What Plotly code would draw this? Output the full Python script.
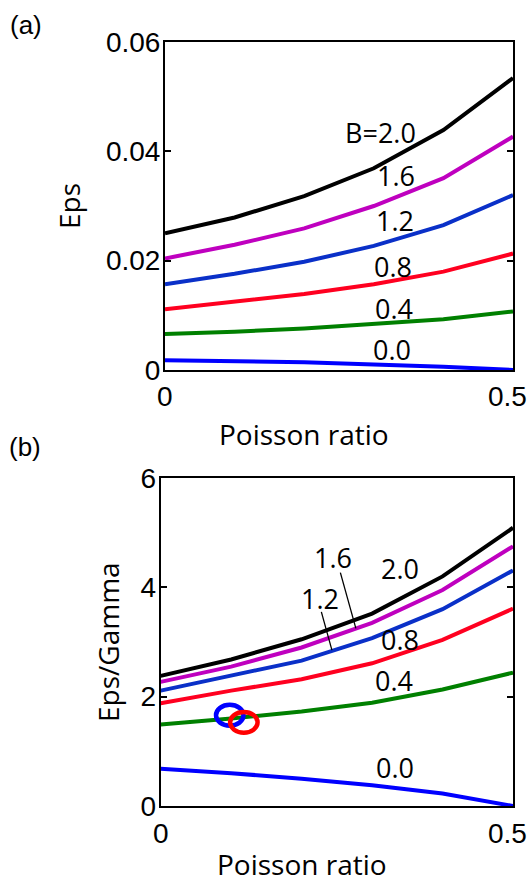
import plotly.graph_objects as go

# ---------------- data ----------------
poisson = [0.0, 0.1, 0.2, 0.3, 0.4, 0.5]
B_values = ["0.0", "0.4", "0.8", "1.2", "1.6", "2.0"]

# panel (a): Eps
eps_B00 = [0.0018, 0.0016, 0.0014, 0.0010, 0.0006, 0.0000]
eps_B04 = [0.0066, 0.0070, 0.0076, 0.0084, 0.0093, 0.0107]
eps_B08 = [0.0111, 0.0125, 0.0139, 0.0157, 0.0180, 0.0213]
eps_B12 = [0.0157, 0.0176, 0.0198, 0.0227, 0.0265, 0.0320]
eps_B16 = [0.0204, 0.0229, 0.0259, 0.0300, 0.0351, 0.0427]
eps_B20 = [0.0250, 0.0279, 0.0318, 0.0369, 0.0439, 0.0534]

# panel (b): Eps/Gamma
eg_B00 = [0.68, 0.60, 0.50, 0.38, 0.23, 0.00]
eg_B04 = [1.49, 1.60, 1.73, 1.89, 2.13, 2.44]
eg_B08 = [1.88, 2.11, 2.32, 2.61, 3.04, 3.61]
eg_B12 = [2.11, 2.38, 2.66, 3.07, 3.60, 4.31]
eg_B16 = [2.27, 2.55, 2.90, 3.35, 3.95, 4.75]
eg_B20 = [2.38, 2.68, 3.05, 3.52, 4.20, 5.09]

# highlighted points in panel (b) (centres and half-axes, data units)
ring_x = [0.098, 0.118]
ring_y = [1.66, 1.53]
ring_rx = [0.0195, 0.0195]
ring_ry = [0.19, 0.19]
ring_colors = ["#0000FF", "#FF0000"]

# curve label positions
labels_a_text = ["0.0", "0.4", "0.8", "1.2", "1.6", "B=2.0"]
labels_a_x = [0.326, 0.329, 0.328, 0.331, 0.332, 0.309]
labels_a_y = [0.0038, 0.0112, 0.0190, 0.0274, 0.0355, 0.0434]

labels_b_text = ["0.0", "0.4", "0.8", "1.2", "1.6", "2.0"]
labels_b_x = [0.332, 0.331, 0.340, 0.226, 0.244, 0.340]
labels_b_y = [0.71, 2.29, 3.04, 3.80, 4.54, 4.35]

# leader lines in panel (b)
leader16_x = [0.255, 0.277]
leader16_y = [4.27, 3.25]
leader12_x = [0.228, 0.243]
leader12_y = [3.55, 2.85]

yticks_a = [0, 0.02, 0.04, 0.06]
yticks_a_text = ["0", "0.02", "0.04", "0.06"]
yticks_b = [0, 2, 4, 6]
yticks_b_text = ["0", "2", "4", "6"]
xticks = [0, 0.5]
xticks_text = ["0", "0.5"]

colors = ["#0000FF", "#008000", "#FF0020", "#0A30C8", "#BF00BF", "#000000"]

W, H = 531, 884
TICKFONT = dict(family="Liberation Sans", size=28, color="black")
TITLEFONT = dict(family="Open Sans", size=28, color="black")
LABELFONT = dict(family="Open Sans", size=27, color="black")

fig = go.Figure()

series_a = [eps_B00, eps_B04, eps_B08, eps_B12, eps_B16, eps_B20]
series_b = [eg_B00, eg_B04, eg_B08, eg_B12, eg_B16, eg_B20]

for name, ys, c in zip(B_values, series_a, colors):
    fig.add_trace(go.Scatter(x=poisson, y=ys, mode="lines", name="B=" + name,
                             line=dict(color=c, width=4), xaxis="x", yaxis="y",
                             showlegend=False))
for name, ys, c in zip(B_values, series_b, colors):
    fig.add_trace(go.Scatter(x=poisson, y=ys, mode="lines", name="B=" + name,
                             line=dict(color=c, width=4), xaxis="x2", yaxis="y2",
                             showlegend=False))

for lx, ly in [(leader16_x, leader16_y), (leader12_x, leader12_y)]:
    fig.add_trace(go.Scatter(x=lx, y=ly, mode="lines", line=dict(color="black", width=1.3),
                             xaxis="x2", yaxis="y2", showlegend=False))

shapes = []
for cx, cy, rx, ry, c in zip(ring_x, ring_y, ring_rx, ring_ry, ring_colors):
    shapes.append(dict(type="circle", xref="x2", yref="y2",
                       x0=cx - rx, x1=cx + rx, y0=cy - ry, y1=cy + ry,
                       line=dict(color=c, width=4.5), layer="above"))

ann = []
for t, x, y in zip(labels_a_text, labels_a_x, labels_a_y):
    ann.append(dict(text=t, x=x, y=y, xref="x", yref="y", showarrow=False,
                    font=LABELFONT, xanchor="center", yanchor="middle"))
for t, x, y in zip(labels_b_text, labels_b_x, labels_b_y):
    ann.append(dict(text=t, x=x, y=y, xref="x2", yref="y2", showarrow=False,
                    font=LABELFONT, xanchor="center", yanchor="middle"))

def px(xp, yp):
    return xp / W, 1 - yp / H

# x tick labels (placed as text so the last one stays inside the page)
for xref, ypix in [("x", 397), ("x2", 833)]:
    for i, (v, t) in enumerate(zip(xticks, xticks_text)):
        last = i == len(xticks) - 1
        ann.append(dict(text=t, x=v, y=1 - ypix / H, xref=xref, yref="paper",
                        showarrow=False, font=TICKFONT,
                        xanchor="right" if last else "center", yanchor="middle",
                        xshift=16 if last else 0))

for text, xp, yp, rot in [("Poisson ratio", 304, 434, 0),
                          ("Eps", 69, 206, -90), ("Eps/Gamma", 108, 642, -90)]:
    x, y = px(xp, yp)
    ann.append(dict(text=text, x=x, y=y, xref="paper", yref="paper", showarrow=False,
                    font=TITLEFONT, xanchor="center", yanchor="middle", textangle=rot))
# bottom x-axis title sits right at the lower edge of the page
ann.append(dict(text="Poisson ratio", x=302 / W, y=0, xref="paper", yref="paper",
                showarrow=False, font=TITLEFONT, xanchor="center", yanchor="bottom",
                borderpad=0))
for text, xp, yp in [("(a)", 26, 25), ("(b)", 25, 447)]:
    x, y = px(xp, yp)
    ann.append(dict(text=text, x=x, y=y, xref="paper", yref="paper", showarrow=False,
                    font=dict(family="Liberation Sans", size=26, color="black"),
                    xanchor="center", yanchor="middle"))

axis_common = dict(showline=True, linecolor="black", linewidth=2, mirror="ticks",
                   ticks="inside", ticklen=6, tickwidth=1.5, tickcolor="black",
                   showgrid=False, zeroline=False, tickfont=TICKFONT,
                   automargin=False)

fig.update_layout(
    width=W, height=H,
    margin=dict(l=0, r=0, t=0, b=0, autoexpand=False),
    paper_bgcolor="white", plot_bgcolor="white",
    xaxis=dict(domain=[165 / W, 513 / W], range=[0, 0.5], anchor="y",
               tickvals=xticks, showticklabels=False, **axis_common),
    yaxis=dict(domain=[1 - 370 / H, 1 - 42 / H], range=[0, 0.06], anchor="x",
               tickvals=yticks_a, ticktext=yticks_a_text, ticklabelstandoff=-3, **axis_common),
    xaxis2=dict(domain=[160.7 / W, 513 / W], range=[0, 0.5], anchor="y2",
                tickvals=xticks, showticklabels=False, **axis_common),
    yaxis2=dict(domain=[1 - 806 / H, 1 - 478 / H], range=[0, 6], anchor="x2",
                tickvals=yticks_b, ticktext=yticks_b_text, ticklabelstandoff=-3, **axis_common),
    shapes=shapes,
    annotations=ann,
)

fig.write_html("out.html", config={"displayModeBar": False},
               post_script="document.body.style.margin='0';document.body.style.overflow='hidden';")
